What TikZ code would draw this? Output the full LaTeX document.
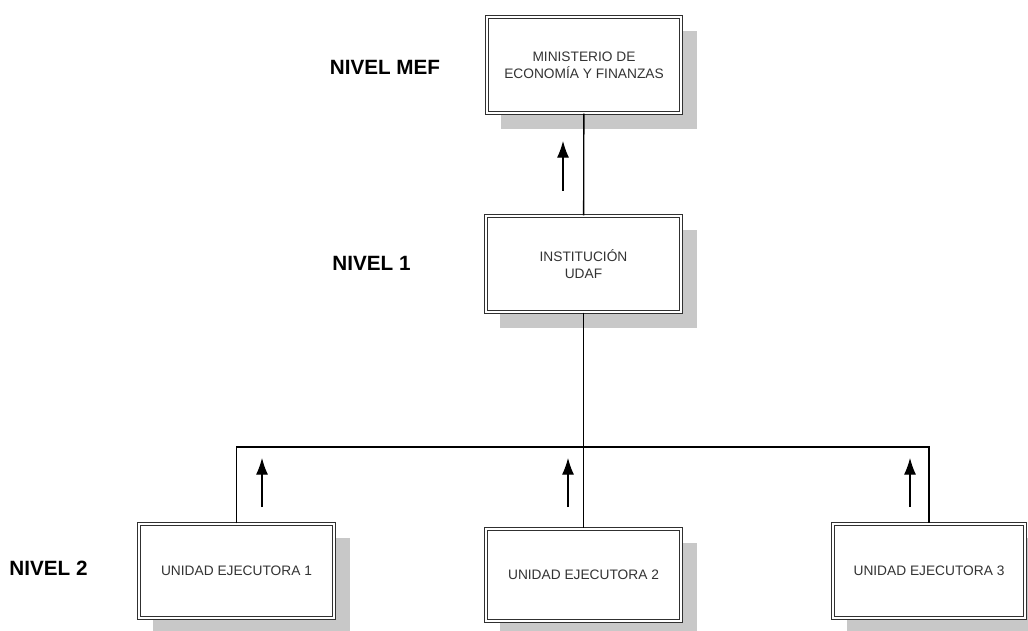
\documentclass[tikz,border=0pt]{standalone}
\usepackage{fontspec}
\setmainfont{Liberation Sans}
\usetikzlibrary{arrows.meta,backgrounds,calc}
\definecolor{boxline}{HTML}{303030}
\definecolor{shadowc}{HTML}{C8C8C8}
\definecolor{txtc}{HTML}{333333}
\tikzset{
  orgbox/.style={draw=boxline, double=white, line width=0.85pt, double distance=1.5pt,
    fill=white, rectangle, align=center, inner sep=0pt,
    font=\fontsize{10.3pt}{12.75pt}\selectfont, text=txtc},
  lvl/.style={font=\fontsize{15.5pt}{18pt}\selectfont\bfseries, text=black, inner sep=0pt},
  conn/.style={line width=1pt, draw=black},
  uparr/.style={line width=0.8pt, -{Latex[length=12.5pt,width=9pt]}}
}
\begin{document}
\begin{tikzpicture}[x=0.75pt,y=-0.75pt]
\useasboundingbox (0,0) rectangle (1028,631);

% boxes
\node[orgbox, minimum width=145.5pt, minimum height=72pt] (mef) at (584,65) {MINISTERIO DE\\ECONOMÍA Y FINANZAS};
\node[orgbox, minimum width=146.25pt, minimum height=72pt] (inst) at (583.5,264) {INSTITUCIÓN\\UDAF};
\node[orgbox, minimum width=146.25pt, minimum height=70.5pt] (ue1) at (236.5,571) {UNIDAD EJECUTORA 1};
\node[orgbox, minimum width=146.25pt, minimum height=69pt] (ue2) at (583.5,575) {UNIDAD EJECUTORA 2};
\node[orgbox, minimum width=144pt, minimum height=70.5pt] (ue3) at (929,571) {UNIDAD EJECUTORA 3};

% shadows
\begin{scope}[on background layer]
  \fill[white] (0,0) rectangle (1028,631);
  \foreach \n in {mef,inst,ue1,ue2,ue3}{
    \fill[shadowc] ($(\n.south west)+(15,15)$) rectangle ($(\n.north east)+(15,15)$);
  }
\end{scope}

% level labels
\node[lvl] (lmef) at (385,67) {NIVEL MEF};
\node[lvl] (l1) at (371.5,263) {NIVEL 1};
\node[lvl] (l2) at (48.5,568) {NIVEL 2};

% connectors
\coordinate (j) at (583.5,447);
\draw[conn] (mef) -- (inst);
\draw[conn] (inst) -- (ue2);
\draw[conn] (ue1.north) |- (j) -| (ue3.north);

% arrows
\coordinate (a0s) at (563,191); \coordinate (a0e) at (563,141);
\coordinate (a1s) at (262,507); \coordinate (a1e) at (262,458);
\coordinate (a2s) at (568,507); \coordinate (a2e) at (568,458);
\coordinate (a3s) at (910,507); \coordinate (a3e) at (910,458);
\draw[uparr] (a0s) -- (a0e);
\draw[uparr] (a1s) -- (a1e);
\draw[uparr] (a2s) -- (a2e);
\draw[uparr] (a3s) -- (a3e);
\end{tikzpicture}
\end{document}
